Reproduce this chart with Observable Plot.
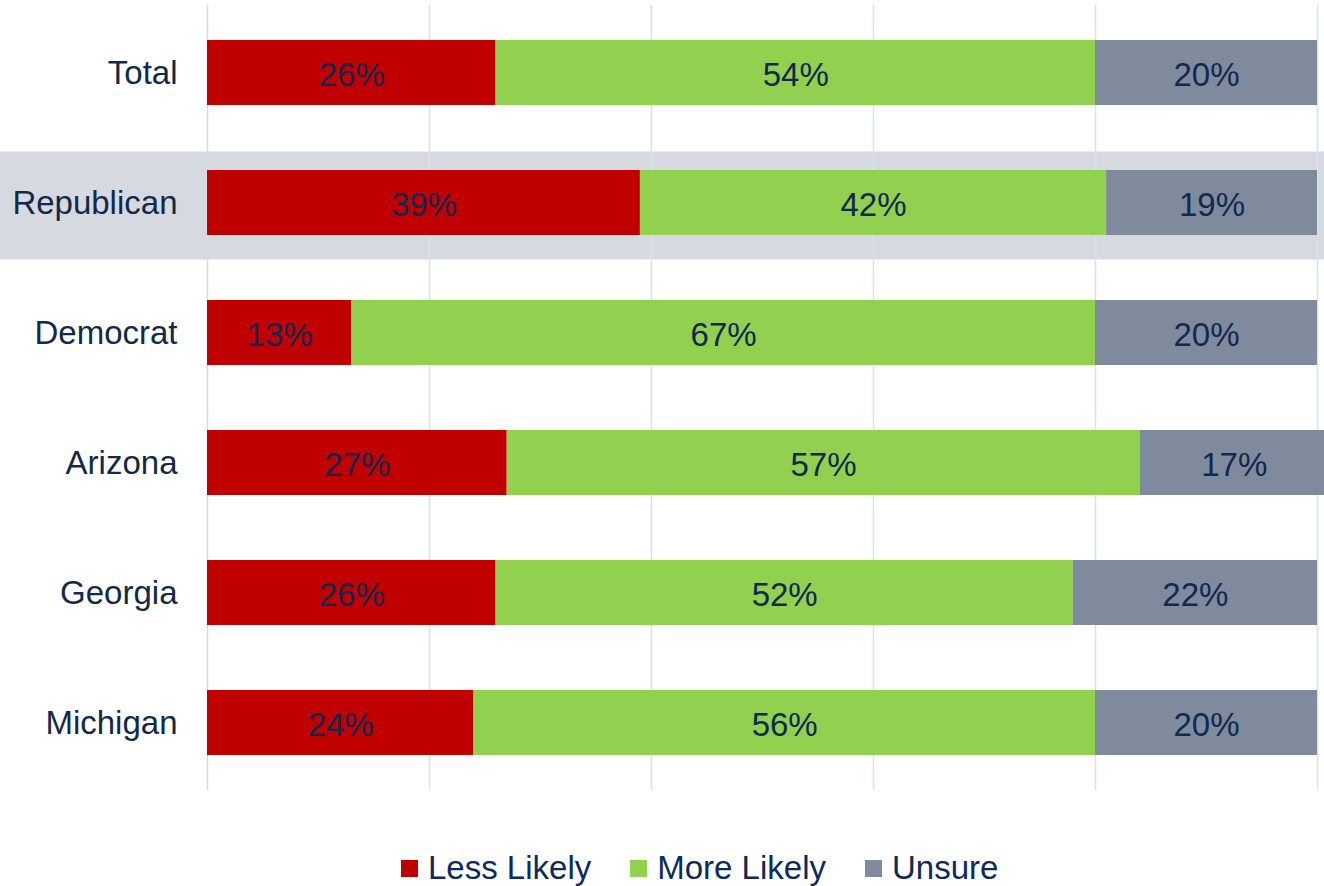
<!DOCTYPE html>
<html>
<head>
<meta charset="utf-8">
<script src="https://cdn.jsdelivr.net/npm/d3@7"></script>
<script src="https://cdn.jsdelivr.net/npm/@observablehq/plot@0.6"></script>
<style>
  html, body { margin: 0; padding: 0; background: #fff; }
  body { width: 1324px; height: 886px; overflow: hidden; font-family: "Liberation Sans", Arial, sans-serif; }
  #legend { display: flex; align-items: center; padding-left: 401px; padding-top: 50px; height: 36px; }
  .item { display: flex; align-items: center; margin-right: 39px; font-size: 33px; color: #0c2a5e; line-height: 36px; }
  .sw { width: 17px; height: 17px; margin-right: 10px; }
</style>
</head>
<body>
<div id="chart"></div>
<div id="legend"></div>
<script>
const groups = ["Total", "Republican", "Democrat", "Arizona", "Georgia", "Michigan"];
const categories = ["Less Likely", "More Likely", "Unsure"];
const lessLikely = [26, 39, 13, 27, 26, 24];
const moreLikely = [54, 42, 67, 57, 52, 56];
const unsure = [20, 19, 20, 17, 22, 20];
const colors = ["#c00000", "#92d050", "#7f8b9c"];
const gridTicks = [0, 20, 40, 60, 80, 100];
const highlighted = "Republican";

const series = [lessLikely, moreLikely, unsure];
const data = [];
groups.forEach((g, i) => {
  categories.forEach((c, j) => {
    data.push({group: g, category: c, value: series[j][i]});
  });
});

const font = "'Liberation Sans', Arial, sans-serif";
const textColor = "#12294a";
const xMin = gridTicks[0], xMax = gridTicks[gridTicks.length - 1];

const chart = Plot.plot({
  width: 1324,
  height: 800,
  marginLeft: 207,
  marginRight: 7,
  marginTop: 5,
  marginBottom: 10,
  style: {fontFamily: font, background: "#fff"},
  x: {type: "linear", domain: [xMin, xMax], axis: null},
  y: {domain: groups, paddingOuter: 0.25, paddingInner: 0.5, label: null, axis: null},
  color: {domain: categories, range: colors},
  marks: [
    Plot.barX([{group: highlighted, lo: xMin, hi: xMax}], {
      x1: "lo", x2: "hi", y: "group",
      fill: "#d6dae0",
      insetLeft: -207, insetRight: -7, insetTop: -18.5, insetBottom: -24.5
    }),
    Plot.ruleX(gridTicks, {x: d => d, stroke: d => d === 0 ? "#d5dbe3" : "#cfe4f6", strokeWidth: 1.5}),
    Plot.barX(data, Plot.stackX({
      x: "value", y: "group", fill: "category", order: categories
    })),
    Plot.text(data, Plot.stackX({
      x: "value", y: "group", z: "category", order: categories,
      text: d => d.value + "%",
      fill: "#10294f", fontSize: 33, fontFamily: font, dy: 2
    })),
    Plot.axisY({tickSize: 0, tickPadding: 30, fontSize: 33, fill: textColor, fontFamily: font, label: null})
  ]
});
document.getElementById("chart").appendChild(chart);

const legend = document.getElementById("legend");
categories.forEach((c, j) => {
  const item = document.createElement("div");
  item.className = "item";
  const sw = document.createElement("span");
  sw.className = "sw";
  sw.style.background = colors[j];
  item.appendChild(sw);
  item.appendChild(document.createTextNode(c));
  legend.appendChild(item);
});
</script>
</body>
</html>
